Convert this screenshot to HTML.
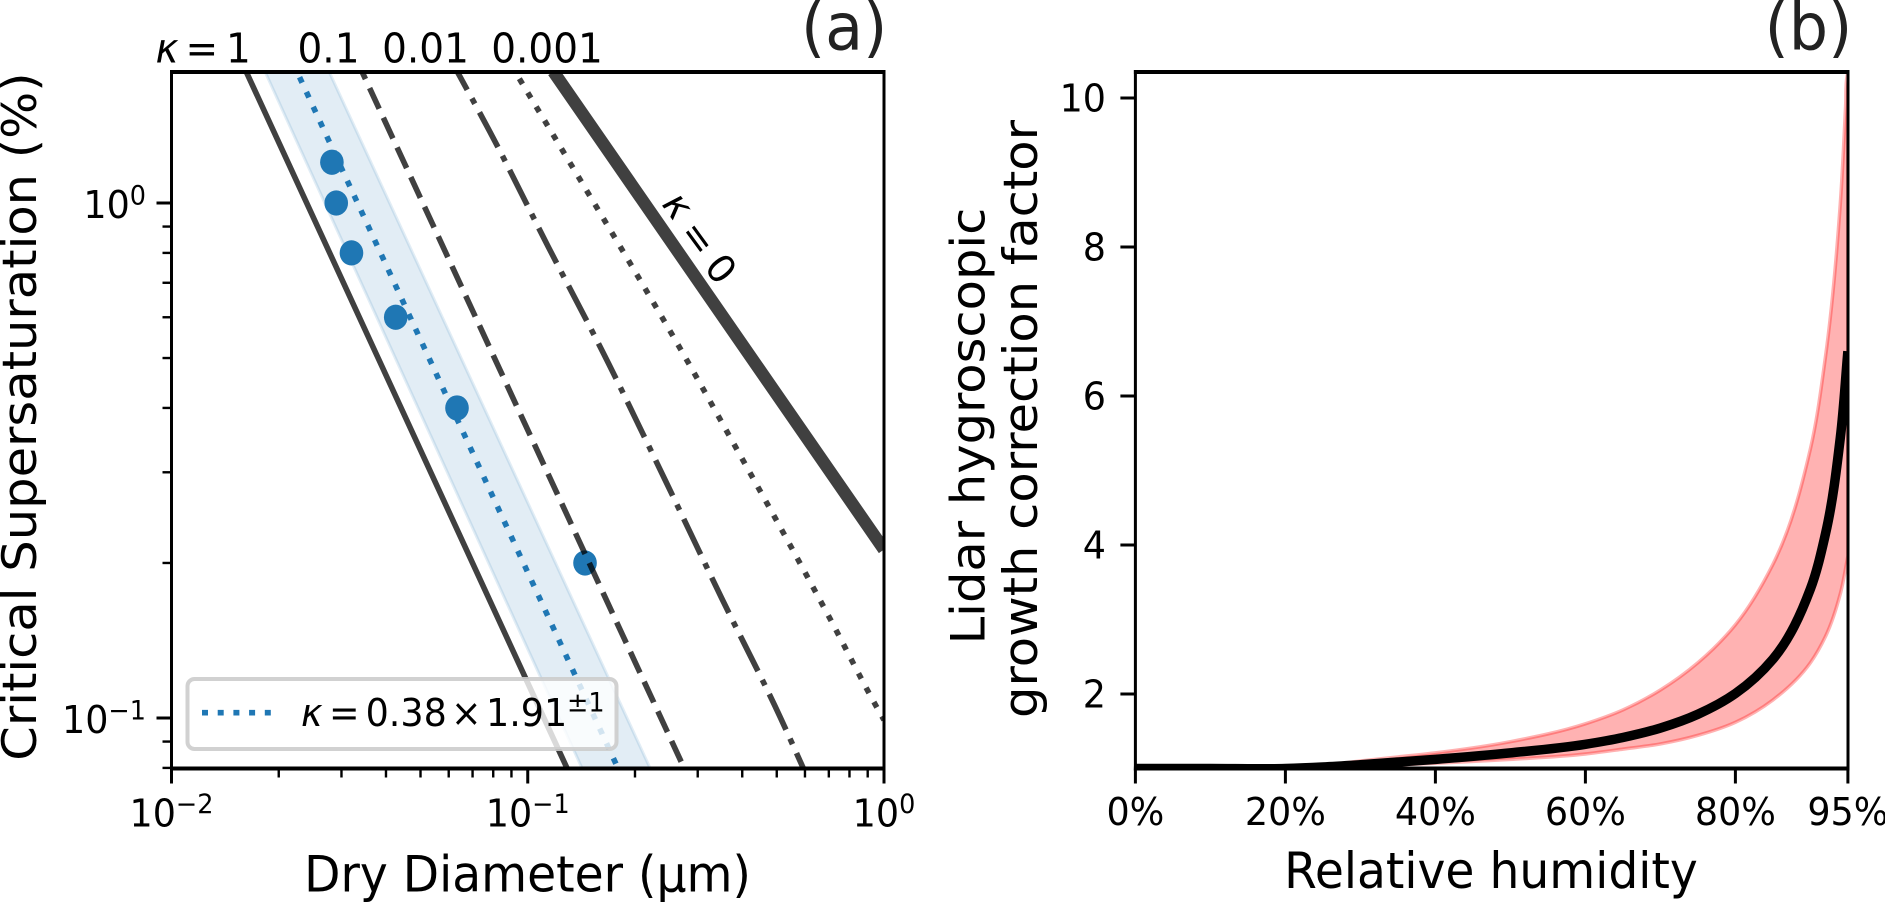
<!DOCTYPE html>
<html lang="en">
<head>
<meta charset="utf-8">
<title>Critical supersaturation and lidar hygroscopic growth correction</title>
<style>
html,body{margin:0;padding:0;background:#fff;}
body{width:1885px;height:902px;overflow:hidden;}
svg{display:block;}
text{font-family:"DejaVu Sans","Liberation Sans",sans-serif;fill:#000;}
.tick{font-size:36.5px;}
.top-label{font-size:39px;}
.axis{font-size:47.2px;}
.title{font-size:62px;fill:#222;}
.it{font-style:italic;}
</style>
</head>
<body>
<svg id="chart" xmlns="http://www.w3.org/2000/svg" width="1885" height="902" viewBox="0 0 1885 902">
  <defs>
    <clipPath id="clip-a"><rect x="171.5" y="72" width="712.5" height="696.5"/></clipPath>
    <clipPath id="clip-b"><rect x="1135.4" y="72" width="712.6" height="696.5"/></clipPath>
  </defs>
  <g id="panel-a-marks" clip-path="url(#clip-a)"></g>
  <g id="panel-b-marks" clip-path="url(#clip-b)"></g>

  <g>
    <rect x="187.5" y="679" width="429" height="70" rx="7" ry="7" fill="#fff" fill-opacity="0.8" stroke="#ccc" stroke-opacity="0.9" stroke-width="4"/>
    <line x1="202" y1="712.7" x2="271" y2="712.7" stroke="#1f77b4" stroke-width="5.6" stroke-dasharray="6 9.7"/>
    <g class="tick">
      <text class="it" x="301" y="726">κ</text>
      <text x="329" y="726">=</text>
      <text x="365.6" y="726">0.38</text>
      <text x="451" y="726">×</text>
      <text x="486" y="726">1.91</text>
      <text x="567" y="711.7" style="font-size:25.5px">±1</text>
    </g>
  </g>

  <g class="top-label">
    <text class="it" x="155.5" y="62.5">κ</text>
    <text x="185.5" y="62.5">=</text>
    <text x="226" y="62.5">1</text>
    <text x="328.5" y="62.5" text-anchor="middle">0.1</text>
    <text x="425.5" y="62.5" text-anchor="middle">0.01</text>
    <text x="547" y="62.5" text-anchor="middle">0.001</text>
  </g>
  <g style="font-size:37.5px" transform="translate(698.3 238) scale(1 1.05) rotate(52.5)">
    <text class="it nostretch" x="-37" y="10" text-anchor="middle">κ</text>
    <text class="nostretch" x="0" y="13" text-anchor="middle">=</text>
    <text class="nostretch" x="37" y="13" text-anchor="middle">0</text>
  </g>

  <text class="title" x="887.3" y="49.5" text-anchor="end">(a)</text>
  <text class="title" x="1852.3" y="49.5" text-anchor="end">(b)</text>

  <text class="axis" x="527.5" y="891.5" text-anchor="middle">Dry Diameter (µm)</text>
  <text class="axis" transform="translate(36 416.6) scale(1 1.05) rotate(-90)" text-anchor="middle">Critical Supersaturation (%)</text>
  <text class="axis" x="1491" y="888" text-anchor="middle">Relative humidity</text>
  <text class="axis" transform="translate(984.5 426) scale(1 1.05) rotate(-90)" text-anchor="middle">Lidar hygroscopic</text>
  <text class="axis" transform="translate(1037 419) scale(1 1.05) rotate(-90)" text-anchor="middle">growth correction factor</text>

  <g id="axes-layer"></g>
</svg>

<script>
// Panel (a): critical supersaturation (%) against dry diameter (µm)
const kappa1Diameter = [0.0162, 0.1288];
const kappa1Super = [1.8, 0.08];
const kappa01Diameter = [0.03425, 0.2746];
const kappa01Super = [1.8, 0.08];
const kappa001Diameter = [0.0634, 0.0783, 0.1142, 0.163, 0.2429, 0.3503, 0.5105, 0.593];
const kappa001Super = [1.8, 1.375, 0.822, 0.511, 0.29, 0.1708, 0.1006, 0.08];
const kappa0001Diameter = [0.0921, 0.1329, 0.1936, 0.2663, 0.3835, 0.5215, 0.7054, 0.9495, 1.0];
const kappa0001Super = [1.8, 1.181, 0.7647, 0.5254, 0.3355, 0.229, 0.1559, 0.1056, 0.0991];
const kappa0Diameter = [0.118, 1.0];
const kappa0Super = [1.8, 0.2124];
const fitDiameter = [0.0225, 0.179];
const bandLowDiameter = [0.0183, 0.1419];
const bandHighDiameter = [0.02768, 0.2203];
const fitSuper = [1.8, 0.08];
const sampleDiameter = [0.0282, 0.029, 0.032, 0.0426, 0.0633, 0.1448];
const sampleSuper = [1.2, 1.0, 0.8, 0.6, 0.4, 0.2];

const xMajorA = [0.01, 0.1, 1];
const xMajorExpA = ['−2', '−1', '0'];
const xMinorA = [0.02, 0.03, 0.04, 0.05, 0.06, 0.07, 0.08, 0.09, 0.2, 0.3, 0.4, 0.5, 0.6, 0.7, 0.8, 0.9];
const yMajorA = [1, 0.1];
const yMajorExpA = ['0', '−1'];
const yMinorA = [0.08, 0.09, 0.2, 0.3, 0.4, 0.5, 0.6, 0.7, 0.8, 0.9];

// Panel (b): growth correction factor against relative humidity (%)
const rhCentre = [0, 10, 20, 25, 30, 40, 50, 60, 65, 70, 75, 80, 85, 90, 92, 94, 95];
const factorCentre = [1, 1, 1, 1.02, 1.05, 1.123, 1.21, 1.325, 1.416, 1.543, 1.728, 2.006, 2.467, 3.41, 4.145, 5.45, 6.6];
const rhUpper = [0, 10, 20, 25, 30, 35, 40, 50, 60, 65, 70, 75, 80, 85, 90, 92, 94, 94.7, 94.9, 95];
const factorUpper = [1, 1, 1, 1.04, 1.1, 1.155, 1.21, 1.36, 1.6, 1.786, 2.054, 2.42, 2.93, 3.74, 5.29, 6.52, 8.6, 9.9, 10.3, 10.35];
const rhLower = [0, 10, 20, 30, 40, 50, 60, 65, 70, 75, 80, 85, 90, 92, 94, 95];
const factorLower = [1, 1, 1, 1.03, 1.07, 1.123, 1.195, 1.26, 1.33, 1.445, 1.62, 1.92, 2.42, 2.77, 3.35, 3.85];

const xTicksB = [0, 20, 40, 60, 80, 95];
const xTickLabelsB = ['0%', '20%', '40%', '60%', '80%', '95%'];
const yTicksB = [2, 4, 6, 8, 10];
const yTickLabelsB = ['2', '4', '6', '8', '10'];

// Axis functions
function xA(d) { return 171.5 + 356.25 * (Math.log10(d) + 2); }
function yA(s) { return 203 - 515 * Math.log10(s); }
function xB(rh) { return 1135.4 + 7.5 * rh; }
function yB(v) { return 768.5 - 74.5 * (v - 1); }

const NS = 'http://www.w3.org/2000/svg';
const marksA = document.getElementById('panel-a-marks');
const marksB = document.getElementById('panel-b-marks');
const axesLayer = document.getElementById('axes-layer');

function mk(tag, props, parent) {
  const node = document.createElementNS(NS, tag);
  for (const k in props) node.setAttribute(k, props[k]);
  parent.appendChild(node);
  return node;
}
function project(xs, ys, fx, fy) {
  return xs.map(function (x, i) { return [fx(x), fy(ys[i])]; });
}
function dist(a, b) { return Math.max(Math.hypot(a[0] - b[0], a[1] - b[1]), 0.001); }
function tangents(p) {
  const n = p.length, m = [];
  for (let i = 0; i < n; i++) {
    if (i === 0) { const d = dist(p[0], p[1]); m.push([(p[1][0] - p[0][0]) / d, (p[1][1] - p[0][1]) / d]); continue; }
    if (i === n - 1) { const d = dist(p[n - 2], p[n - 1]); m.push([(p[n - 1][0] - p[n - 2][0]) / d, (p[n - 1][1] - p[n - 2][1]) / d]); continue; }
    const d0 = dist(p[i - 1], p[i]), d1 = dist(p[i], p[i + 1]);
    m.push([
      ((p[i][0] - p[i - 1][0]) / d0 * d1 + (p[i + 1][0] - p[i][0]) / d1 * d0) / (d0 + d1),
      ((p[i][1] - p[i - 1][1]) / d0 * d1 + (p[i + 1][1] - p[i][1]) / d1 * d0) / (d0 + d1)
    ]);
  }
  return m;
}
function smoothSegments(p) {
  const m = tangents(p);
  let out = '';
  for (let i = 0; i < p.length - 1; i++) {
    const d = dist(p[i], p[i + 1]) / 3;
    out += ' C' + (p[i][0] + m[i][0] * d).toFixed(2) + ' ' + (p[i][1] + m[i][1] * d).toFixed(2) + ' ' +
      (p[i + 1][0] - m[i + 1][0] * d).toFixed(2) + ' ' + (p[i + 1][1] - m[i + 1][1] * d).toFixed(2) + ' ' +
      p[i + 1][0].toFixed(2) + ' ' + p[i + 1][1].toFixed(2);
  }
  return out;
}
function smoothPath(p) {
  return 'M' + p[0][0].toFixed(2) + ' ' + p[0][1].toFixed(2) + smoothSegments(p);
}
function bandPath(a, b) {
  const rev = b.slice().reverse();
  return smoothPath(a) + ' L' + rev[0][0].toFixed(2) + ' ' + rev[0][1].toFixed(2) + smoothSegments(rev) + ' Z';
}

// Panel (a) marks
const fitBand = mk('path', {
  d: bandPath(project(bandLowDiameter, fitSuper, xA, yA), project(bandHighDiameter, fitSuper, xA, yA)),
  fill: '#1f77b4', 'fill-opacity': 0.13, stroke: '#1f77b4', 'stroke-opacity': 0.13, 'stroke-width': 3
}, marksA);



const fitLine = mk('path', {
  d: smoothPath(project(fitDiameter, fitSuper, xA, yA)),
  fill: 'none', stroke: '#1f77b4', 'stroke-width': 5.6, 'stroke-dasharray': '6.1 10.2', 'stroke-dashoffset': 10.1
}, marksA);



sampleDiameter.forEach(function (d, i) {
  const dot = mk('ellipse', { cx: xA(d), cy: yA(sampleSuper[i]), rx: 11.8, ry: 12.6, fill: '#1f77b4' }, marksA);
  
  
});

const solidLine = mk('path', {
  d: smoothPath(project(kappa1Diameter, kappa1Super, xA, yA)),
  fill: 'none', stroke: '#000', 'stroke-opacity': 0.75, 'stroke-width': 5.6
}, marksA);



const dashedLine = mk('path', {
  d: smoothPath(project(kappa01Diameter, kappa01Super, xA, yA)),
  fill: 'none', stroke: '#000', 'stroke-opacity': 0.75, 'stroke-width': 5.6, 'stroke-dasharray': '22.8 9.9', 'stroke-dashoffset': 14.5
}, marksA);



const dashDotLine = mk('path', {
  d: smoothPath(project(kappa001Diameter, kappa001Super, xA, yA)),
  fill: 'none', stroke: '#000', 'stroke-opacity': 0.75, 'stroke-width': 5.6, 'stroke-dasharray': '39.3 9.8 6.1 9.8', 'stroke-dashoffset': 18.5
}, marksA);



const dottedLine = mk('path', {
  d: smoothPath(project(kappa0001Diameter, kappa0001Super, xA, yA)),
  fill: 'none', stroke: '#000', 'stroke-opacity': 0.75, 'stroke-width': 5.6, 'stroke-dasharray': '6.1 10.2', 'stroke-dashoffset': 7.9
}, marksA);



const thickLine = mk('path', {
  d: smoothPath(project(kappa0Diameter, kappa0Super, xA, yA)),
  fill: 'none', stroke: '#000', 'stroke-opacity': 0.75, 'stroke-width': 12.5
}, marksA);



// Panel (b) marks
const redBand = mk('path', {
  d: bandPath(project(rhUpper, factorUpper, xB, yB), project(rhLower, factorLower, xB, yB)),
  fill: '#ff0000', 'fill-opacity': 0.3, stroke: '#ff0000', 'stroke-opacity': 0.3, 'stroke-width': 3.5
}, marksB);



const centreLine = mk('path', {
  d: smoothPath(project(rhCentre, factorCentre, xB, yB)),
  fill: 'none', stroke: '#000', 'stroke-width': 9.5
}, marksB);



// Axes
function addTick(x1, y1, x2, y2, width, name) {
  const t = mk('line', { x1: x1, y1: y1, x2: x2, y2: y2, stroke: '#000', 'stroke-width': width }, axesLayer);
  
  
}
function addPowerLabel(x, y, anchor, exponent, name) {
  const t = mk('text', { x: x, y: y, 'text-anchor': anchor, class: 'tick' }, axesLayer);
  
  
  const base = mk('tspan', {}, t);
  base.textContent = '10';
  const sup = mk('tspan', { dy: -13, style: 'font-size:25.5px' }, t);
  sup.textContent = exponent;
}
function addPlainLabel(x, y, anchor, label, name) {
  const t = mk('text', { x: x, y: y, 'text-anchor': anchor, class: 'tick' }, axesLayer);
  
  
  t.textContent = label;
}

xMinorA.forEach(function (d) { addTick(xA(d), 768.5, xA(d), 777.5, 2.4, 'x-minor-tick-a'); });
yMinorA.forEach(function (s) { addTick(171.5, yA(s), 162.5, yA(s), 2.4, 'y-minor-tick-a'); });
xMajorA.forEach(function (d, i) {
  addTick(xA(d), 768.5, xA(d), 783.5, 3, 'x-major-tick-a');
  addPowerLabel(xA(d), 826.7, 'middle', xMajorExpA[i], 'x-tick-label-a');
});
yMajorA.forEach(function (s, i) {
  addTick(171.5, yA(s), 156.5, yA(s), 3, 'y-major-tick-a');
  addPowerLabel(146, yA(s) + 15, 'end', yMajorExpA[i], 'y-tick-label-a');
});
xTicksB.forEach(function (rh, i) {
  addTick(xB(rh), 768.5, xB(rh), 783.5, 3, 'x-tick-b');
  addPlainLabel(xB(rh), 825, 'middle', xTickLabelsB[i], 'x-tick-label-b');
});
yTicksB.forEach(function (v, i) {
  addTick(1135.4, yB(v), 1120.4, yB(v), 3, 'y-tick-b');
  addPlainLabel(1106, yB(v) + 13.5, 'end', yTickLabelsB[i], 'y-tick-label-b');
});

function addFrame(left, right, top, bottom, name) {
  const l = mk('line', { x1: left, y1: top - 2, x2: left, y2: bottom + 2, stroke: '#000', 'stroke-width': 3 }, axesLayer);
  
  
  const r = mk('line', { x1: right, y1: top - 2, x2: right, y2: bottom + 2, stroke: '#000', 'stroke-width': 3 }, axesLayer);
  
  
  const t = mk('line', { x1: left - 1.5, y1: top, x2: right + 1.5, y2: top, stroke: '#000', 'stroke-width': 4 }, axesLayer);
  
  
  const b = mk('line', { x1: left - 1.5, y1: bottom, x2: right + 1.5, y2: bottom, stroke: '#000', 'stroke-width': 4 }, axesLayer);
  
  
}
addFrame(171.5, 884, 72, 768.5, 'panel-a');
addFrame(1135.4, 1848, 72, 768.5, 'panel-b');

// The reference figure is slightly stretched vertically, so upright text gets the same stretch.
document.querySelectorAll('text').forEach(function (t) {
  if (t.hasAttribute('transform') || t.classList.contains('nostretch')) return;
  const x = t.getAttribute('x'), y = t.getAttribute('y');
  t.removeAttribute('x');
  t.removeAttribute('y');
  t.setAttribute('transform', 'translate(' + x + ' ' + y + ') scale(1 1.05)');
});
</script>
</body>
</html>
